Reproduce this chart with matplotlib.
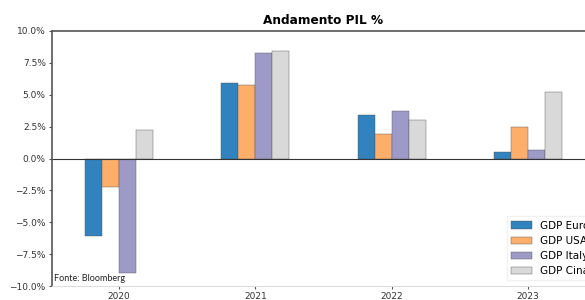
import matplotlib.pyplot as plt
import numpy as np
from matplotlib.ticker import PercentFormatter

# dati
years = [2020, 2021, 2022, 2023]
gdp_euro = [-6.1, 5.9, 3.4, 0.5]
gdp_usa = [-2.2, 5.8, 1.9, 2.5]
gdp_italy = [-9.0, 8.3, 3.7, 0.7]
gdp_cina = [2.2, 8.4, 3.0, 5.2]
labels = ['GDP Eurozona', 'GDP USA', 'GDP Italy', 'GDP Cina']
colors = ['#3182bd', '#fdae6b', '#9e9ac8', '#d9d9d9']

fig = plt.figure(figsize=(5.85, 3.0), dpi=100)
# l'asse esce a destra dalla figura, come nell'originale
ax = fig.add_axes([52 / 585, 14 / 300, 543 / 585, 255 / 300])

x = np.array(years)
w = 0.125
series = [gdp_euro, gdp_usa, gdp_italy, gdp_cina]
for k, (vals, lab, col) in enumerate(zip(series, labels, colors)):
    ax.bar(x + (k - 1.5) * w, vals, width=w, color=col, label=lab,
           edgecolor='#555555', linewidth=0.3)

ax.axhline(0, color='#333333', linewidth=0.8)

ax.set_xlim(2020 - 0.49, 2023 + 0.49)
ax.set_ylim(-10, 10)
ax.set_xticks(years)
ax.set_yticks(np.arange(-10, 10.1, 2.5))
ax.yaxis.set_major_formatter(PercentFormatter(decimals=1))
ax.tick_params(labelsize=6.5, length=2, color='#555555', labelcolor='#333333', pad=2.5)

ax.spines['top'].set_color('#555555')
ax.spines['top'].set_linewidth(1.2)
ax.spines['left'].set_color('#555555')
ax.spines['left'].set_linewidth(1.2)
ax.spines['bottom'].set_color('#dddddd')
ax.spines['right'].set_visible(False)

ax.set_title('Andamento PIL %', fontsize=8.7, fontweight='bold', pad=5)
ax.text(0.003, 0.01, 'Fonte: Bloomberg', transform=ax.transAxes,
        fontsize=6.5, family='Lato', color='#222222', va='bottom')

# legenda tagliata dal bordo destro, come nel riferimento
leg = ax.legend(loc='lower left', bbox_to_anchor=(0.838, 0.022),
                fontsize=7.5, frameon=True, fancybox=False, framealpha=0.8,
                edgecolor='#eeeeee', borderaxespad=0)

fig.savefig('out.png', dpi=100)
